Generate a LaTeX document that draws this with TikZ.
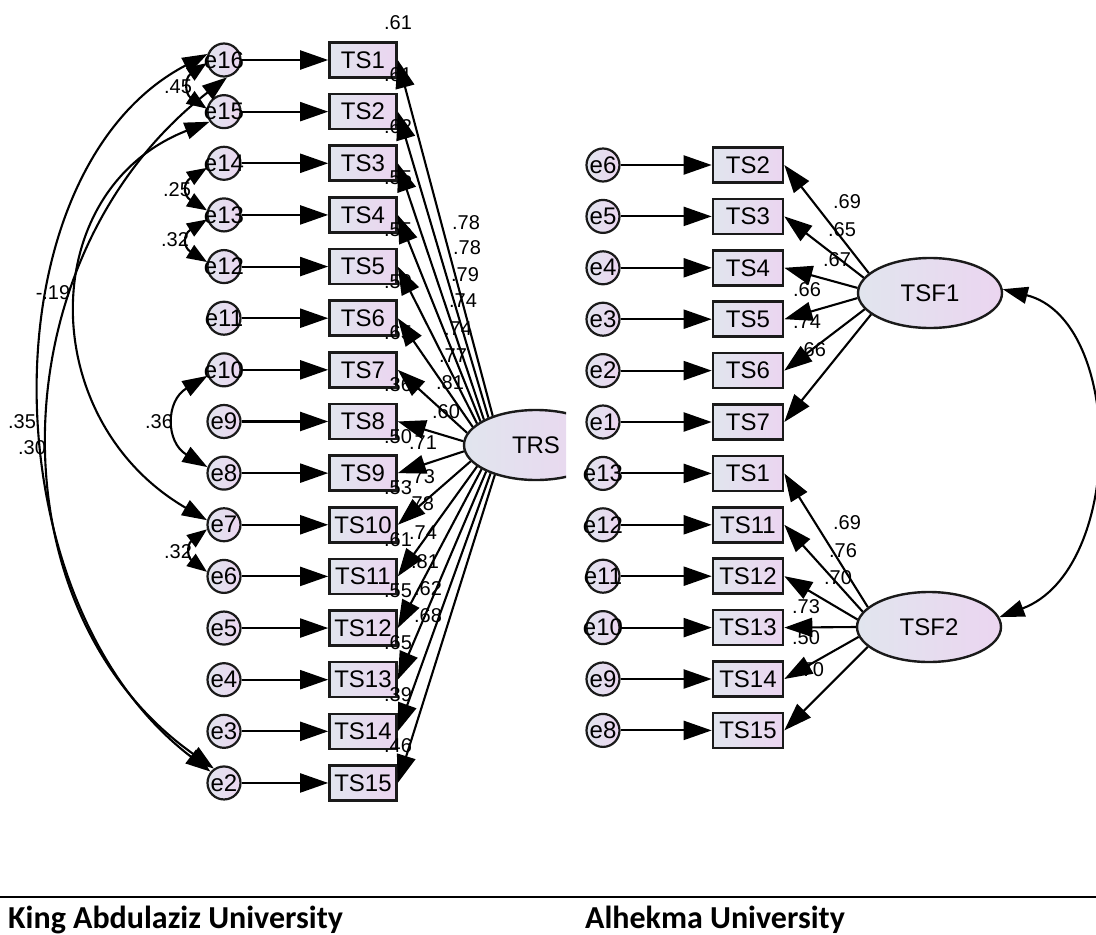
\documentclass[tikz,border=0pt]{standalone}
\usepackage{fontspec}
\setmainfont{Liberation Sans}
\newfontfamily\footfont{Carlito}
\usetikzlibrary{arrows.meta,shapes.geometric}

\definecolor{fillL}{HTML}{E1E5EE}
\definecolor{fillR}{HTML}{EBD5F0}
\definecolor{edge}{HTML}{1A1A1A}

\begin{document}
\begin{tikzpicture}[x=1pt,y=-1pt,
  every node/.style={font=\fontsize{24}{24}\selectfont},
  obs/.style={draw=edge, line width=2.6pt, left color=fillL, right color=fillR,
    minimum width=67pt, minimum height=35pt, inner sep=0pt},
  err/.style={circle, draw=edge, line width=2.2pt, left color=fillL, right color=fillR,
    minimum size=33pt, inner sep=0pt},
  lat/.style={ellipse, draw=edge, line width=2.4pt, left color=fillL, right color=fillR,
    minimum width=144pt, minimum height=70pt, inner sep=0pt},
  reg/.style={line width=2.1pt, -{Triangle[length=28pt,width=19pt]}},
  cov/.style={line width=2.1pt, {Triangle[length=25pt,width=17pt]}-{Triangle[length=25pt,width=17pt]}},
  covs/.style={line width=2.1pt, {Triangle[length=20pt,width=15pt]}-{Triangle[length=20pt,width=15pt]}},
  num/.style={font=\fontsize{20}{20}\selectfont, inner sep=0pt},
  foot/.style={font=\fontsize{32}{32}\footfont\bfseries, inner sep=0pt, anchor=base west},
]
\useasboundingbox (0,0) rectangle (1096,935);

% ---------- one-factor model: TRS ----------
\foreach \k/\en in {1/16,2/15,3/14,4/13,5/12,6/11,7/10,8/9,9/8,10/7,11/6,12/5,13/4,14/3,15/2}{
  \pgfmathsetmacro\yy{60+51.64*(\k-1)}
  \node[obs] (L\k) at (363,\yy) {TS\k};
  \node[err,label=center:{e\en}] (Le\en) at (224,\yy) {};
  \draw[reg] (Le\en) -- (L\k);
}
\begin{scope}
  \clip (0,0) rectangle (566,935);
  \node[lat] (TRS) at (536,445) {TRS};
\end{scope}

% squared multiple correlations
\foreach \k/\v in {1/.61,2/.61,3/.62,4/.55,5/.55,6/.59,7/.65,8/.36,9/.50,10/.53,11/.61,12/.55,13/.65,14/.39,15/.46}{
  \pgfmathsetmacro\yy{60+51.64*(\k-1)-37}
  \node[num] at (398,\yy) {\v};
}
% standardized loadings
\foreach \p/\v in {{(466,223)}/.78,{(467,248)}/.78,{(465,275)}/.79,{(463,301)}/.74,{(458,329)}/.74,
  {(453,356)}/.77,{(450,383)}/.81,{(446,412)}/.60,{(423,443)}/.71,{(421,477)}/.73,
  {(420,504)}/.78,{(423,533)}/.74,{(425,562)}/.81,{(428,589)}/.62,{(428,616)}/.68}{
  \node[num] at \p {\v};
}

\foreach \k/\a in {1/146,2/150,3/154,4/157,5/160,6/164,7/170,8/177,9/185,10/194,11/200,12/204,13/208,14/212,15/216}
  \draw[reg] (TRS.\a) -- (L\k.east);

% error covariances
\draw[covs] (Le16.190) .. controls +(-22,15) and +(-22,-15) .. (Le15.170);
\draw[covs] (Le14.195) .. controls +(-24,15) and +(-24,-15) .. (Le13.165);
\draw[covs] (Le13.195) .. controls +(-24,15) and +(-24,-15) .. (Le12.165);
\draw[cov] (Le10.200) .. controls +(-42,25) and +(-42,-25) .. (Le8.160);
\draw[covs] (Le7.195) .. controls +(-20,15) and +(-20,-15) .. (Le6.165);
\draw[cov] (Le16.160) .. controls (-14,170) and (-14,600) .. (Le2.140);
\draw[cov] (Le16.280) .. controls (-3,256) and (-11,610) .. (Le2.125);
\draw[cov] (Le15.215) .. controls (35,190) and (35,420) .. (Le7.165);

\node[num] at (178,87) {.45};
\node[num] at (177,190) {.25};
\node[num] at (175,240) {.32};
\node[num] at (159,422) {.36};
\node[num] at (178,552) {.32};
\node[num] at (53,293) {-.19};
\node[num] at (22,422) {.35};
\node[num] at (32,448) {.30};

% ---------- two-factor model: TSF1, TSF2 ----------
\foreach \j/\ts/\en in {1/2/6,2/3/5,3/4/4,4/5/3,5/6/2,6/7/1,7/1/13,8/11/12,9/12/11,10/13/10,11/14/9,12/15/8}{
  \pgfmathsetmacro\yy{165+51.4*(\j-1)}
  \node[obs, minimum width=70pt] (R\ts) at (748,\yy) {TS\ts};
  \node[err,label=center:{e\en}] (Re\en) at (603,\yy) {};
  \draw[reg] (Re\en) -- (R\ts);
}
\node[lat] (TSF1) at (930,293) {TSF1};
\node[lat] (TSF2) at (929,627) {TSF2};

\node[num] at (847,202) {.69};
\node[num] at (842,230) {.65};
\node[num] at (837,260) {.67};
\node[num] at (807,290) {.66};
\node[num] at (807,322) {.74};
\node[num] at (812,350) {.66};
\node[num] at (847,523) {.69};
\node[num] at (843,551) {.76};
\node[num] at (838,578) {.70};
\node[num] at (806,607) {.73};
\node[num] at (806,638) {.50};
\node[num] at (810,670) {.70};

\foreach \ts/\a in {2/162,3/167,4/176,5/184,6/194,7/200}
  \draw[reg] (TSF1.\a) -- (R\ts.east);
\foreach \ts/\a in {1/162,11/167,12/174,13/180,14/188,15/198}
  \draw[reg] (TSF2.\a) -- (R\ts.east);

\draw[cov] (TSF1.3) .. controls (1125,320) and (1125,570) .. (TSF2.8);

% ---------- footer ----------
\draw[line width=2.5pt] (0,897) -- (1096,897);
\node[foot] (u1) at (8,928) {King Abdulaziz University};
\node[foot] (u2) at (585,928) {Alhekma University};
\end{tikzpicture}
\end{document}
